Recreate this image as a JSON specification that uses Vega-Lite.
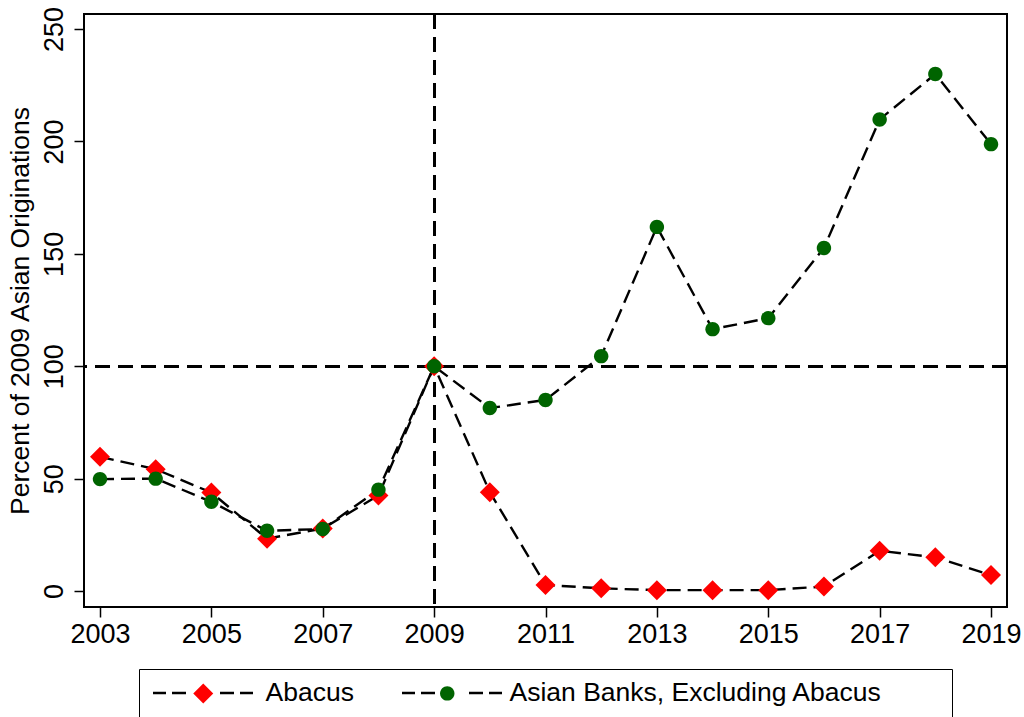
{
  "$schema": "https://vega.github.io/schema/vega-lite/v6.json",
  "width": 923,
  "height": 593,
  "autosize": "none",
  "padding": {"left": 84, "top": 14, "right": 17, "bottom": 110},
  "background": "white",
  "config": {
    "view": {"stroke": "black", "strokeWidth": 2},
    "font": "Liberation Sans",
    "axis": {"labelFont": "Liberation Sans", "titleFont": "Liberation Sans", "labelColor": "black", "titleColor": "black", "tickColor": "black", "domain": false, "grid": false},
    "legend": {"labelFont": "Liberation Sans"}
  },
  "data": {"values": [
    {"year": 2003, "series": "Abacus", "value": 59.7},
    {"year": 2004, "series": "Abacus", "value": 54.2},
    {"year": 2005, "series": "Abacus", "value": 43.8},
    {"year": 2006, "series": "Abacus", "value": 23.3},
    {"year": 2007, "series": "Abacus", "value": 27.8},
    {"year": 2008, "series": "Abacus", "value": 42.5},
    {"year": 2009, "series": "Abacus", "value": 100},
    {"year": 2010, "series": "Abacus", "value": 44},
    {"year": 2011, "series": "Abacus", "value": 2.7},
    {"year": 2012, "series": "Abacus", "value": 1.2},
    {"year": 2013, "series": "Abacus", "value": 0.4},
    {"year": 2014, "series": "Abacus", "value": 0.4},
    {"year": 2015, "series": "Abacus", "value": 0.4},
    {"year": 2016, "series": "Abacus", "value": 2},
    {"year": 2017, "series": "Abacus", "value": 17.9},
    {"year": 2018, "series": "Abacus", "value": 15},
    {"year": 2019, "series": "Abacus", "value": 7.1},
    {"year": 2003, "series": "Asian Banks, Excluding Abacus", "value": 49.8},
    {"year": 2004, "series": "Asian Banks, Excluding Abacus", "value": 50},
    {"year": 2005, "series": "Asian Banks, Excluding Abacus", "value": 39.7},
    {"year": 2006, "series": "Asian Banks, Excluding Abacus", "value": 26.8},
    {"year": 2007, "series": "Asian Banks, Excluding Abacus", "value": 27.6},
    {"year": 2008, "series": "Asian Banks, Excluding Abacus", "value": 45.1},
    {"year": 2009, "series": "Asian Banks, Excluding Abacus", "value": 100},
    {"year": 2010, "series": "Asian Banks, Excluding Abacus", "value": 81.4},
    {"year": 2011, "series": "Asian Banks, Excluding Abacus", "value": 85},
    {"year": 2012, "series": "Asian Banks, Excluding Abacus", "value": 104.5},
    {"year": 2013, "series": "Asian Banks, Excluding Abacus", "value": 162},
    {"year": 2014, "series": "Asian Banks, Excluding Abacus", "value": 116.5},
    {"year": 2015, "series": "Asian Banks, Excluding Abacus", "value": 121.4},
    {"year": 2016, "series": "Asian Banks, Excluding Abacus", "value": 152.6},
    {"year": 2017, "series": "Asian Banks, Excluding Abacus", "value": 209.8},
    {"year": 2018, "series": "Asian Banks, Excluding Abacus", "value": 230},
    {"year": 2019, "series": "Asian Banks, Excluding Abacus", "value": 198.8}
  ]},
  "encoding": {
    "x": {"field": "year", "type": "quantitative",
      "scale": {"domain": [2002.713, 2019.287], "nice": false, "zero": false},
      "axis": {"values": [2003, 2005, 2007, 2009, 2011, 2013, 2015, 2017, 2019], "format": "d", "title": null,
        "labelFontSize": 27, "tickSize": 10, "tickWidth": 1.5, "labelPadding": 4}},
    "y": {"field": "value", "type": "quantitative",
      "scale": {"domain": [-7.1, 256.7], "nice": false, "zero": false},
      "axis": {"values": [0, 50, 100, 150, 200, 250], "title": "Percent of 2009 Asian Originations",
        "labelFontSize": 27, "labelAngle": -90, "labelAlign": "center", "labelBaseline": "bottom",
        "tickSize": 10, "tickWidth": 1.5, "labelPadding": 6,
        "titleFontSize": 26.5, "titleFontWeight": "normal", "titlePadding": 6}}
  },
  "layer": [
    {"mark": {"type": "rule", "strokeDash": [15, 8], "strokeWidth": 2.2, "color": "black"},
     "encoding": {"x": {"datum": 2009, "type": "quantitative"}, "y": null}},
    {"mark": {"type": "rule", "strokeDash": [15, 8], "strokeWidth": 2.2, "color": "black"},
     "encoding": {"y": {"datum": 100, "type": "quantitative"}, "x": null}},
    {"mark": {"type": "line", "strokeDash": [14, 7], "strokeWidth": 2.4},
     "encoding": {
       "stroke": {"field": "series", "type": "nominal",
         "scale": {"range": ["black", "black"]},
         "legend": {"title": null, "orient": "none", "legendX": 55, "legendY": 655, "direction": "horizontal",
           "symbolType": "M-5,0L-3.7,0M-3.1,0L-1.7,0M1.7,0L3.1,0M3.7,0L5,0",
           "symbolSize": 400, "symbolOffset": 40, "symbolStrokeWidth": 2.4, "symbolFillColor": "transparent", "symbolStrokeColor": "black", "symbolDash": [200, 0],
           "labelExpr": "datum.value == 'Abacus' ? '' : datum.label",
           "labelFontSize": 26, "labelOffset": 110, "columnPadding": 71, "labelOpacity": 0, "labelLimit": 1000,
           "padding": 11, "strokeColor": "black", "fillColor": "white"}}
     }},
    {"mark": {"type": "point", "filled": true, "size": 400, "opacity": 1, "strokeWidth": 0},
     "encoding": {
       "fill": {"field": "series", "type": "nominal",
         "scale": {"range": ["#FF0000", "#006400"]},
         "legend": {"title": null, "orient": "none", "legendX": 106, "legendY": 666, "direction": "horizontal",
           "symbolSize": 400, "symbolStrokeWidth": 0, "symbolOpacity": 1,
           "labelFontSize": 26.5, "labelOffset": 49, "columnPadding": 80, "labelLimit": 1000, "labelColor": "black",
           "padding": 0}},
       "shape": {"field": "series", "type": "nominal",
         "scale": {"range": ["M0,-1L1,0L0,1L-1,0Z", "M0.72,0A0.72,0.72,0,1,1,-0.72,0A0.72,0.72,0,1,1,0.72,0Z"]}}
     }}
  ]
}
